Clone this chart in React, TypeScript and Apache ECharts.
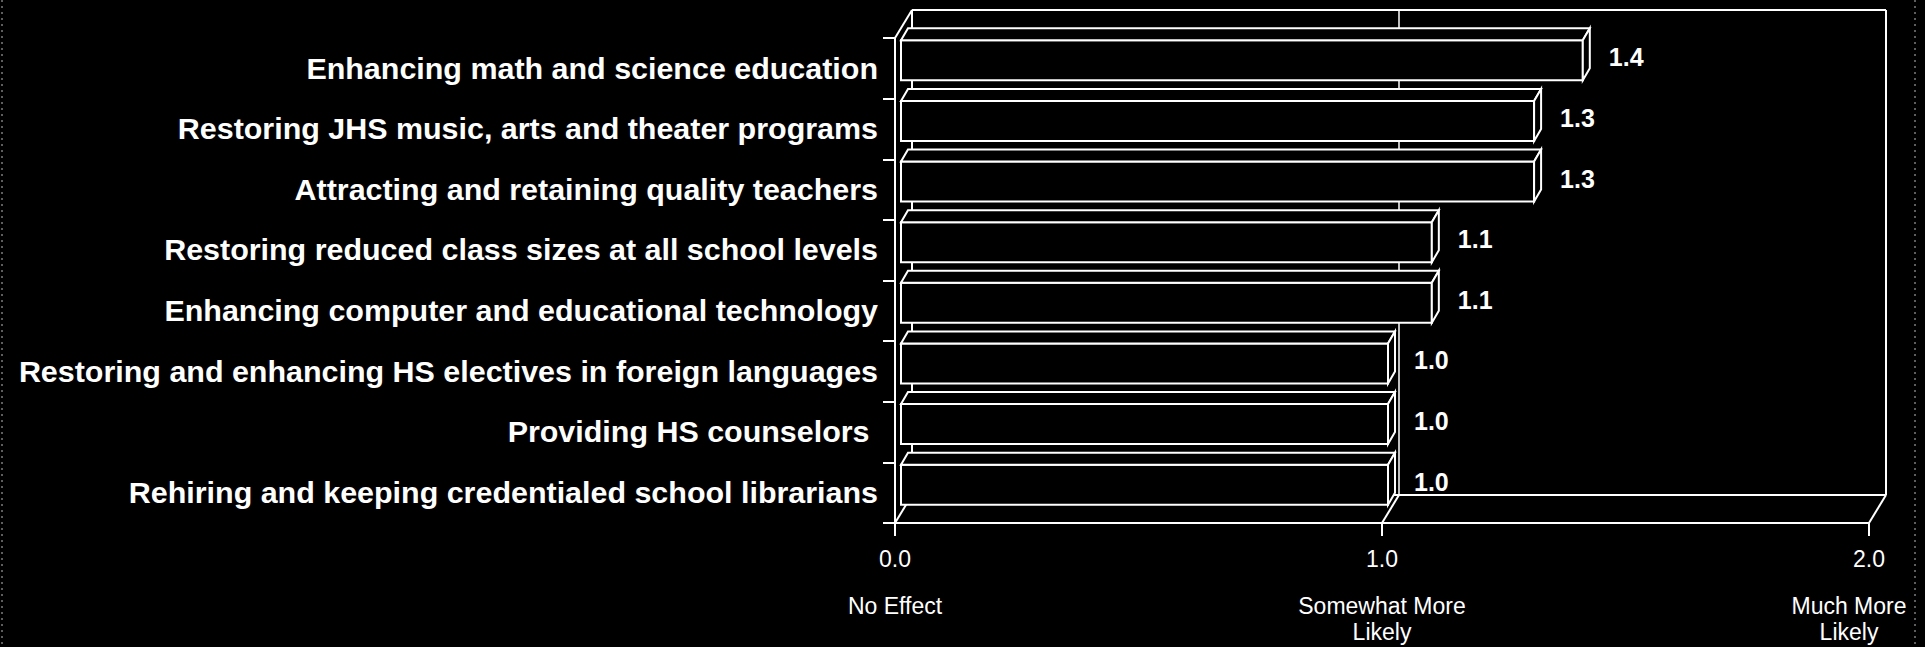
import React, { useEffect, useRef } from "react";
import * as echarts from "echarts";

const categories = [
  "Enhancing math and science education",
  "Restoring JHS music, arts and theater programs",
  "Attracting and retaining quality teachers",
  "Restoring reduced class sizes at all school levels",
  "Enhancing computer and educational technology",
  "Restoring and enhancing HS electives in foreign languages",
  "Providing HS counselors ",
  "Rehiring and keeping credentialed school librarians",
];
const values = [1.4, 1.3, 1.3, 1.09, 1.09, 1.0, 1.0, 1.0];
const tickValues = [0, 1, 2];
const tickLabels = ["0.0", "1.0", "2.0"];
const tickDescriptors = ["No Effect", "Somewhat More\nLikely", "Much More\nLikely"];
const backGridValues = [1];

const FONT = "'Liberation Sans', Arial, Helvetica, sans-serif";

export default function App() {
  const ref = useRef<HTMLDivElement>(null);
  useEffect(() => {
    const chart = echarts.init(ref.current!, null, { renderer: "svg" });
    const DX = 17;
    const DY = -28;
    const BAR_DX = 7;
    const BAR_DY = -12;
    const FRONT_DX = 6;
    const WHITE = "#ffffff";

    const wallRender = (params: any, api: any) => {
      const cs = params.coordSys;
      const x0 = cs.x;
      const y0 = cs.y;
      const x1 = cs.x + cs.width;
      const y1 = cs.y + cs.height;
      const ln = (a: number, b: number, c: number, d: number, w = 2) => ({
        type: "line",
        shape: { x1: a, y1: b, x2: c, y2: d },
        style: { stroke: WHITE, lineWidth: w },
      });
      const children: any[] = [
        ln(x0 + DX, y0 + DY, x1 + DX, y0 + DY),
        ln(x1 + DX, y0 + DY, x1 + DX, y1 + DY),
        ln(x0 + DX, y0 + DY, x0 + DX, y1 + DY),
        ln(x0 + DX, y1 + DY, x1 + DX, y1 + DY),
        ln(x0, y0, x0 + DX, y0 + DY),
      ];
      backGridValues.forEach((v) => {
        const px = api.coord([v, 0])[0];
        children.push(ln(px + DX, y0 + DY, px + DX, y1 + DY, 1.5));
      });
      tickValues.forEach((v) => {
        const px = api.coord([v, 0])[0];
        children.push(ln(px, y1, px + DX, y1 + DY));
      });
      return { type: "group", children };
    };

    const barRender = (params: any, api: any) => {
      const v = api.value(0);
      const i = api.value(1);
      const p0 = api.coord([0, i]);
      const p1 = api.coord([v, i]);
      const band = api.size([0, 1])[1];
      const cy = p0[1];
      const top = cy - band * 0.462;
      const h = band * 0.66;
      const xa = p0[0] + FRONT_DX;
      const xb = p1[0] + FRONT_DX;
      const st = { stroke: WHITE, lineWidth: 2, fill: "#000" };
      return {
        type: "group",
        children: [
          { type: "rect", shape: { x: xa, y: top, width: xb - xa, height: h }, style: st },
          {
            type: "polygon",
            shape: { points: [[xa, top], [xa + BAR_DX, top + BAR_DY], [xb + BAR_DX, top + BAR_DY], [xb, top]] },
            style: st,
          },
          {
            type: "polygon",
            shape: { points: [[xb, top], [xb + BAR_DX, top + BAR_DY], [xb + BAR_DX, top + BAR_DY + h], [xb, top + h]] },
            style: st,
          },
          {
            type: "text",
            x: xb + 26,
            y: top + h / 2 - 3,
            style: {
              text: v.toFixed(1),
              fill: WHITE,
              fontSize: 25,
              fontWeight: "bold",
              fontFamily: FONT,
              align: "left",
              verticalAlign: "middle",
            },
          },
          {
            type: "text",
            x: params.coordSys.x - 17,
            y: cy,
            scaleX: 1.05,
            style: {
              text: categories[i],
              fill: WHITE,
              fontSize: 29,
              fontWeight: "bold",
              fontFamily: FONT,
              align: "right",
              verticalAlign: "middle",
            },
          },
        ],
      };
    };

    chart.setOption({
      animation: false,
      backgroundColor: "#000000",
      textStyle: { fontFamily: FONT, color: WHITE },
      grid: {
        left: 895,
        top: 38,
        width: 974,
        height: 485,
        containLabel: false,
        outerBoundsMode: "none",
      },
      graphic: [
        {
          type: "line",
          shape: { x1: 2, y1: 0, x2: 2, y2: 647 },
          style: { stroke: "#bbbbbb", lineWidth: 1, lineDash: [2, 4] },
        },
        {
          type: "line",
          shape: { x1: 1915, y1: 0, x2: 1915, y2: 647 },
          style: { stroke: "#bbbbbb", lineWidth: 1, lineDash: [2, 4] },
        },
      ],
      xAxis: {
        type: "value",
        min: 0,
        max: 2,
        interval: 1,
        splitLine: { show: false },
        axisLine: { show: true, lineStyle: { color: WHITE, width: 2 } },
        axisTick: { show: true, length: 13, lineStyle: { color: WHITE, width: 2 } },
        axisLabel: {
          margin: 2,
          formatter: (val: number) => {
            const i = tickValues.indexOf(val);
            if (i < 0) return "";
            const s = i === tickValues.length - 1 ? "e" : "d";
            return (
              `{v|${tickLabels[i]}}\n` +
              tickDescriptors[i]
                .split("\n")
                .map((t) => `{${s}|${t}}`)
                .join("\n")
            );
          },
          rich: {
            v: { fontSize: 23, color: WHITE, lineHeight: 68, verticalAlign: "middle", fontFamily: FONT },
            d: { fontSize: 23, color: WHITE, lineHeight: 26, verticalAlign: "middle", fontFamily: FONT },
            e: {
              fontSize: 23,
              color: WHITE,
              lineHeight: 26,
              verticalAlign: "middle",
              fontFamily: FONT,
              padding: [0, 40, 0, 0],
            },
          },
        },
      },
      yAxis: {
        type: "category",
        data: categories,
        inverse: true,
        axisLine: { show: true, lineStyle: { color: WHITE, width: 2 } },
        axisTick: { show: true, length: 12, lineStyle: { color: WHITE, width: 2 } },
        axisLabel: { show: false },
        splitLine: { show: false },
      },
      series: [
        {
          type: "custom",
          clip: false,
          z: 1,
          data: [[0, 0]],
          renderItem: wallRender,
          silent: true,
        },
        {
          type: "custom",
          clip: false,
          z: 2,
          data: values.map((v, i) => [v, i]),
          encode: { x: 0, y: 1 },
          renderItem: barRender,
        },
      ],
    });
    return () => chart.dispose();
  }, []);
  return (
    <div
      ref={ref}
      style={{ position: "fixed", left: 0, top: 0, width: 1925, height: 647, background: "#000" }}
    />
  );
}
